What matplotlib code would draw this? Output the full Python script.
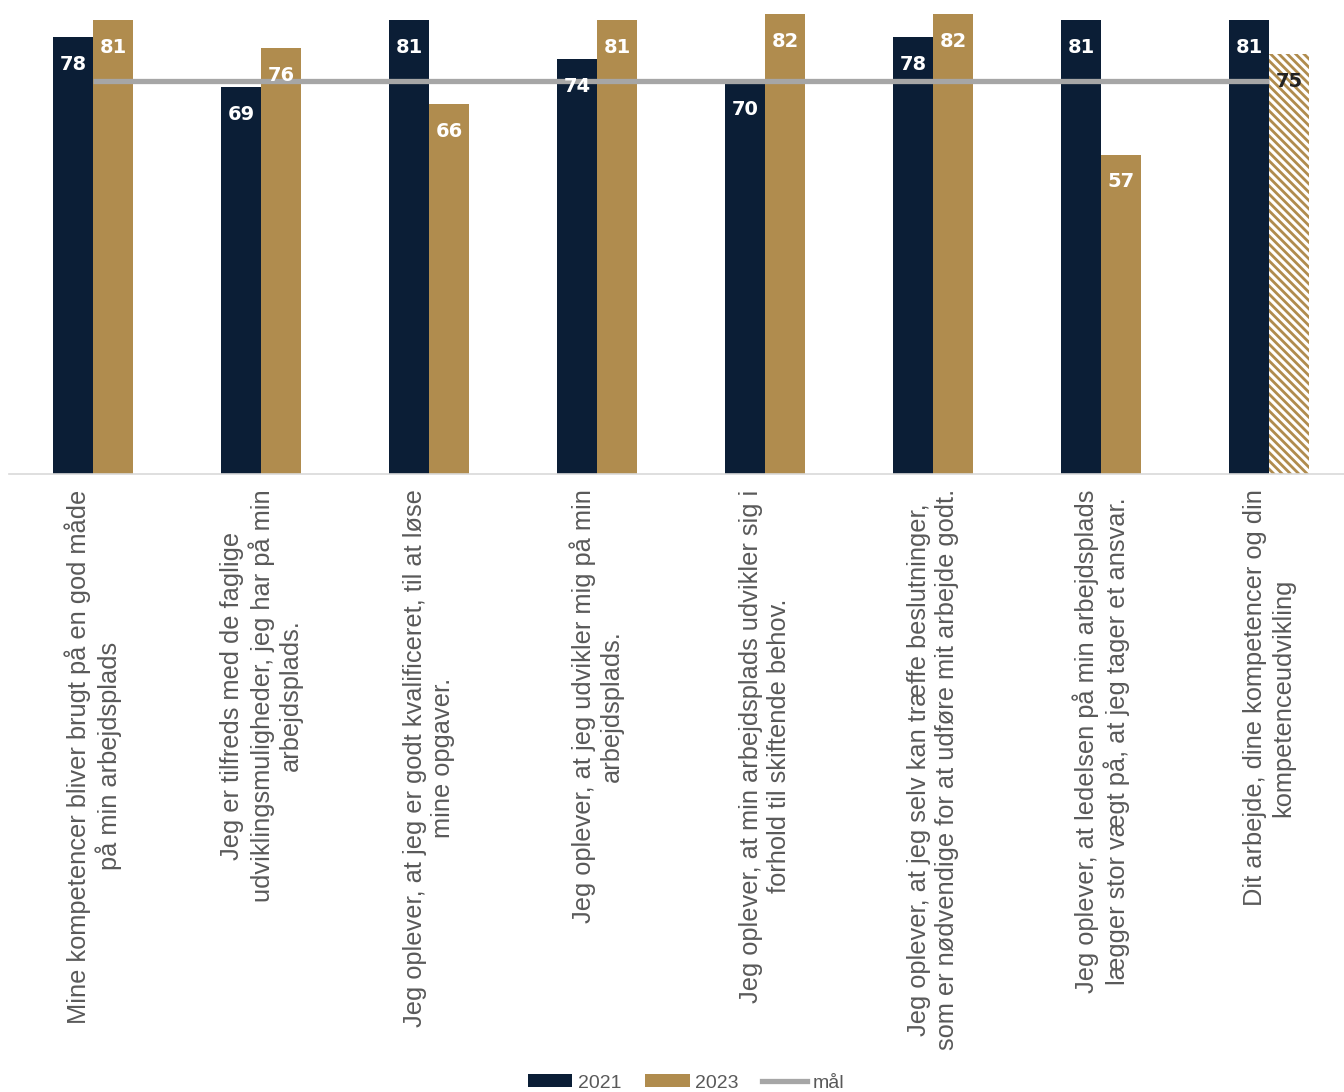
import matplotlib
matplotlib.use("Agg")
import matplotlib.pyplot as plt
from matplotlib.patches import Patch
from matplotlib.lines import Line2D
import numpy as np

categories = [
    "Mine kompetencer bliver brugt på en god måde\npå min arbejdsplads",
    "Jeg er tilfreds med de faglige\nudviklingsmuligheder, jeg har på min\narbejdsplads.",
    "Jeg oplever, at jeg er godt kvalificeret, til at løse\nmine opgaver.",
    "Jeg oplever, at jeg udvikler mig på min\narbejdsplads.",
    "Jeg oplever, at min arbejdsplads udvikler sig i\nforhold til skiftende behov.",
    "Jeg oplever, at jeg selv kan træffe beslutninger,\nsom er nødvendige for at udføre mit arbejde godt.",
    "Jeg oplever, at ledelsen på min arbejdsplads\nlægger stor vægt på, at jeg tager et ansvar.",
    "Dit arbejde, dine kompetencer og din\nkompetenceudvikling",
]
values_2021 = [78, 69, 81, 74, 70, 78, 81, 81]
values_2023 = [81, 76, 66, 81, 82, 82, 57, 75]
target = [70.2, 70.2, 70.2, 70.2, 70.2, 70.2, 70.2, 70.2]
hatched_2023 = [False, False, False, False, False, False, False, True]

NAVY = "#0b1e36"
GOLD = "#b08c4e"
GRAY = "#a6a6a6"
TXT = "#595959"

plt.rcParams['font.family'] = ['Liberation Sans', 'DejaVu Sans']
plt.rcParams['hatch.linewidth'] = 2.0
plt.rcParams['hatch.color'] = GOLD

W, H = 1344, 1092
fig = plt.figure(figsize=(W / 100, H / 100), dpi=100)
ax = fig.add_axes([9 / W, (H - 474) / H, (1344 - 9) / W, 474 / H])

x = np.arange(len(categories))
bw = 40 / 168

ax.bar(x - bw / 2, values_2021, width=bw, color=NAVY, zorder=2)
for i, (v, h) in enumerate(zip(values_2023, hatched_2023)):
    if h:
        ax.bar(x[i] + bw / 2, v, width=bw, facecolor="white", edgecolor=GOLD,
               hatch="\\\\\\\\", linewidth=0, zorder=2)
    else:
        ax.bar(x[i] + bw / 2, v, width=bw, color=GOLD, zorder=2)

ax.plot(x, target, color=GRAY, lw=3.8, zorder=3, solid_capstyle="butt")

off = 4.9
lblfont = dict(family="DejaVu Sans", fontsize=14, fontweight="bold")
for i in range(len(x)):
    ax.text(x[i] - bw / 2, values_2021[i] - off, str(values_2021[i]), ha="center", va="center",
            color="white", zorder=4, **lblfont)
    col = "#222222" if hatched_2023[i] else "white"
    ax.text(x[i] + bw / 2, values_2023[i] - off, str(values_2023[i]), ha="center", va="center",
            color=col, zorder=4, **lblfont)

ax.set_xlim(-0.5, 7.5 - 9 / 168)
ax.set_ylim(0, 474 / 5.605)
ax.set_yticks([])
ax.set_xticks(x)
ax.set_xticklabels(categories, rotation=90, ha="center", va="top", multialignment="center",
                   fontsize=18.3, color=TXT, linespacing=1.2)
ax.tick_params(axis="x", length=0, pad=11)
for s in ["top", "right", "left"]:
    ax.spines[s].set_visible(False)
ax.spines["bottom"].set_color("#d9d9d9")
ax.spines["bottom"].set_linewidth(1.2)
ax.patch.set_alpha(0)

handles = [Patch(facecolor=NAVY, label="2021"),
           Patch(facecolor=GOLD, label="2023"),
           Line2D([0], [0], color=GRAY, lw=3.8, label="mål")]
fig.legend(handles=handles, loc="center", bbox_to_anchor=(686 / W, 1 - 1083 / H), ncol=3,
           frameon=False, fontsize=14, labelcolor=TXT, handlelength=2.3, handleheight=0.6,
           handletextpad=0.3, columnspacing=1.2)

fig.savefig("out.png", dpi=100)
